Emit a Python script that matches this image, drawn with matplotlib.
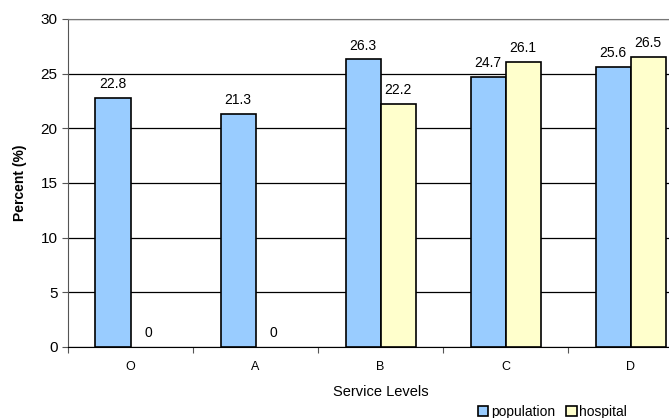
import matplotlib
matplotlib.use("Agg")
import matplotlib.pyplot as plt
from matplotlib.patches import Patch
import numpy as np

plt.rcParams['font.family'] = ['Liberation Sans', 'DejaVu Sans']

categories = ["O", "A", "B", "C", "D"]
population = [22.8, 21.3, 26.3, 24.7, 25.6]
hospital = [0, 0, 22.2, 26.1, 26.5]
yticks = [0, 5, 10, 15, 20, 25, 30]

pop_color = "#99ccff"
hosp_color = "#ffffcc"

fig = plt.figure(figsize=(6.69, 4.18), dpi=100)
ax = fig.add_axes([68 / 669, 1 - 347 / 418, 625 / 669, 328 / 418])

x = np.arange(len(categories))
w = 0.28
b1 = ax.bar(x - w / 2, population, w, color=pop_color, edgecolor="black",
            linewidth=1.2, zorder=3)
b2 = ax.bar(x + w / 2, hospital, w, color=hosp_color, edgecolor="black",
            linewidth=1.2, zorder=3)
for rect, v in zip(b2, hospital):
    if v == 0:
        rect.set_edgecolor("none")

for bars, vals in ((b1, population), (b2, hospital)):
    for rect, v in zip(bars, vals):
        ax.annotate(f"{v:g}", (rect.get_x() + rect.get_width() / 2, v),
                    xytext=(0, 5), textcoords="offset points",
                    ha="center", va="bottom", fontsize=10)

ax.set_xlim(-0.5, len(categories) - 0.5)
ax.set_ylim(0, 30)
ax.set_yticks(yticks)
ax.yaxis.grid(True, color="black", linewidth=0.9, zorder=0)
ax.set_axisbelow(True)
ax.tick_params(axis="y", labelsize=11, length=4, width=0.8, color="#555555")
ax.set_xticks(x)
ax.set_xticklabels(categories, fontsize=9)
ax.tick_params(axis="x", length=0, pad=10)
ax.set_xticks(np.arange(-0.5, len(categories), 1), minor=True)
ax.tick_params(axis="x", which="minor", length=4, width=0.8, color="#555555")

for s in ("top", "right"):
    ax.spines[s].set_color("#777777")
ax.spines["left"].set_color("#555555")
ax.spines["bottom"].set_color("black")

ax.set_ylabel("Percent (%)", fontsize=10, fontweight="bold", labelpad=10)
ax.set_xlabel("Service Levels", fontsize=10.5, labelpad=9)

handles = [Patch(facecolor=pop_color, edgecolor="black", linewidth=1.2, label="population"),
           Patch(facecolor=hosp_color, edgecolor="black", linewidth=1.2, label="hospital")]
fig.legend(handles=handles, loc="lower left", bbox_to_anchor=(468 / 669, -0.026),
           ncol=2, frameon=False, fontsize=10, handlelength=0.75,
           handleheight=0.75, handletextpad=0.2, columnspacing=0.8,
           borderpad=0.2)

fig.savefig("out.png", dpi=100)
